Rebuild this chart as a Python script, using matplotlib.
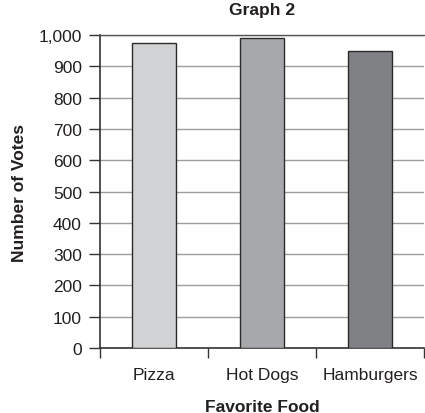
import matplotlib
matplotlib.use("Agg")
import matplotlib.pyplot as plt
from matplotlib.ticker import FuncFormatter, FixedLocator

categories = ["Pizza", "Hot Dogs", "Hamburgers"]
votes = [973, 989, 950]
bar_colors = ["#d1d2d4", "#a7a8ab", "#808184"]
yticks = [0, 100, 200, 300, 400, 500, 600, 700, 800, 900, 1000]

plt.rcParams['font.family'] = ['Liberation Sans', 'DejaVu Sans']
txt = "#231f20"

fig = plt.figure(figsize=(4.25, 4.14), dpi=100)
ax = fig.add_axes([0.235, 0.157, 0.763, 0.756])

x = list(range(len(categories)))
ax.bar(x, votes, width=0.41, color=bar_colors, edgecolor="#2b2b2b", linewidth=1.0, zorder=3)

ax.set_xlim(-0.5, 2.5)
ax.set_ylim(0, 1000)
ax.set_yticks(yticks)
ax.yaxis.set_major_formatter(FuncFormatter(lambda v, p: f"{int(v):,}"))
ax.yaxis.grid(True, color="#9d9d9d", linewidth=1.0, zorder=0)
ax.set_axisbelow(True)

ax.set_xticks(x)
ax.set_xticklabels(categories)
ax.xaxis.set_minor_locator(FixedLocator([-0.5, 0.5, 1.5, 2.5]))
ax.tick_params(axis="x", which="major", length=0, pad=14, labelsize=12.5, labelcolor=txt)
ax.tick_params(axis="x", which="minor", length=7, width=1.0, direction="out", color="#333333")
ax.tick_params(axis="y", length=8, width=1.0, direction="out", color="#333333", labelsize=12.5, labelcolor=txt, pad=5)

for s in ["left", "bottom"]:
    ax.spines[s].set_color("#333333")
    ax.spines[s].set_linewidth(1.2)
ax.spines["top"].set_color("#555555")
ax.spines["top"].set_linewidth(1.0)
ax.spines["right"].set_visible(False)

ax.set_title("Graph 2", fontsize=12.5, fontweight="bold", color=txt, pad=15)
ax.set_xlabel("Favorite Food", fontsize=12.5, fontweight="bold", color=txt, labelpad=12)
ax.set_ylabel("Number of Votes", fontsize=12.5, fontweight="bold", color=txt, labelpad=8)

fig.savefig("out.png", dpi=100)
